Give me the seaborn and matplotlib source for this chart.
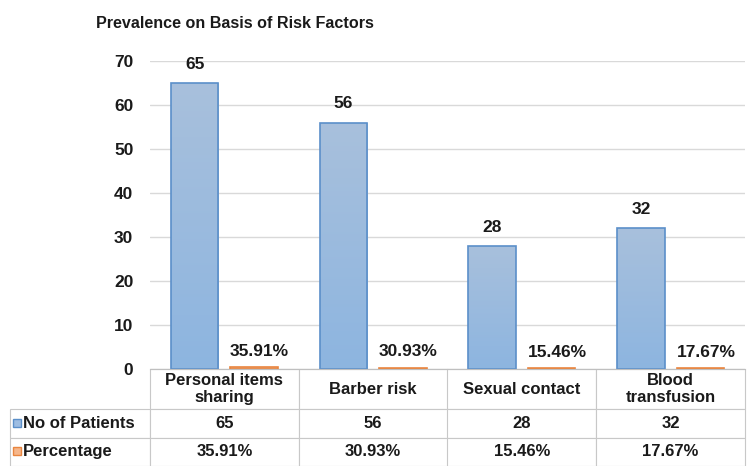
import numpy as np
import pandas as pd
import seaborn as sns
import matplotlib.pyplot as plt
from matplotlib.patches import Rectangle
from matplotlib.colors import LinearSegmentedColormap

categories = ["Personal items\nsharing", "Barber risk", "Sexual contact", "Blood\ntransfusion"]
patients = [65, 56, 28, 32]
percentage = [35.91, 30.93, 15.46, 17.67]
series = ["No of Patients", "Percentage"]
yticks = [0, 10, 20, 30, 40, 50, 60, 70]

df = pd.DataFrame({
    "category": categories * 2,
    "series": [series[0]] * 4 + [series[1]] * 4,
    "value": patients + [p / 100 for p in percentage],
})

sns.set_style("white")
plt.rcParams["font.family"] = ["Liberation Sans", "DejaVu Sans"]

fill_colors = {"No of Patients": "#9dbde2", "Percentage": "#f6b68a"}
edge_colors = ["#5b8fc9", "#e9853f"]
txt = "#1a1a1a"

fig = plt.figure(figsize=(7.49, 4.66), dpi=100)
ax = fig.add_axes([150 / 749, 1 - 369 / 466, 595 / 749, 308 / 466])

sns.barplot(data=df, x="category", y="value", hue="series", order=categories,
            hue_order=series, palette=fill_colors, gap=0.2, width=0.8,
            linewidth=1.2, ax=ax, legend=False)

for patch_group, ec in zip(ax.containers, edge_colors):
    for bar in patch_group:
        bar.set_edgecolor(ec)

# soft vertical gradient on the blue bars
grad = LinearSegmentedColormap.from_list("g", ["#8db5e0", "#a8c0dc"])
for bar in ax.containers[0]:
    x0, y0 = bar.get_x(), bar.get_y()
    w, h = bar.get_width(), bar.get_height()
    im = ax.imshow(np.linspace(0, 1, 100).reshape(-1, 1), cmap=grad, aspect="auto",
                   extent=[x0, x0 + w, y0, y0 + h], origin="lower", zorder=bar.get_zorder())
    im.set_clip_path(bar)
    bar.set_facecolor("none")
    bar.set_zorder(bar.get_zorder() + 0.1)
ax.set_xlim(-0.5, 3.5)

ax.bar_label(ax.containers[0], labels=[str(v) for v in patients], padding=8,
             fontsize=12.5, fontweight="bold", color=txt)
pct_labels = ax.bar_label(ax.containers[1], labels=[f"{v:.2f}%" for v in percentage],
                          padding=6, fontsize=12.5, fontweight="bold", color=txt)
for t in pct_labels:
    t.xyann = (4, t.xyann[1])

ax.set_ylim(0, 70)
ax.set_yticks(yticks)
ax.set_yticklabels([str(t) for t in yticks], fontsize=12.5, fontweight="bold", color=txt)
ax.tick_params(axis="y", length=0, pad=12)
ax.set_xticks([])
ax.set_xlabel("")
ax.set_ylabel("")
ax.yaxis.grid(True, color="#d9d9d9", linewidth=1)
ax.set_axisbelow(True)
for s in ["top", "right", "left"]:
    ax.spines[s].set_visible(False)
ax.spines["bottom"].set_color("#bfbfbf")

# data table under the axes
cell_text = [
    [""] + categories,
    ["No of Patients"] + [str(v) for v in patients],
    ["Percentage"] + [f"{v:.2f}%" for v in percentage],
]
left = -140 / 595
tbl = ax.table(cellText=cell_text, cellLoc="center",
               bbox=[left, -97 / 308, 1 - left, 97 / 308])
tbl.auto_set_font_size(False)
tbl.set_fontsize(12)
widths = [140] + [148.75] * 4
heights = [40, 28.5, 28.5]
for (r, c), cell in tbl.get_celld().items():
    cell.set_width(widths[c])
    cell.set_height(heights[r])
    cell.set_edgecolor("#c8c8c8")
    cell.set_linewidth(0.8)
    cell.get_text().set_color(txt)
    cell.get_text().set_fontweight("semibold")
    cell.get_text().set_linespacing(1.15)
    if c == 0:
        cell._loc = "left"
        cell.PAD = 0.09
        cell.get_text().set_ha("left")
    if r == 0 and c == 0:
        cell.visible_edges = ""

for i, ec in enumerate(edge_colors):
    yc = (369 - 423 - 28 * i) / 308
    ax.add_patch(Rectangle((-137 / 595, yc - 4 / 308), 8 / 595, 8 / 308,
                           transform=ax.transAxes, clip_on=False,
                           facecolor=fill_colors[series[i]], edgecolor=ec, linewidth=1))

fig.text(96 / 749, 1 - 23 / 466, "Prevalence on Basis of Risk Factors",
         fontsize=11.6, fontweight="bold", color=txt, va="center", ha="left")

fig.savefig("out.png", dpi=100)
